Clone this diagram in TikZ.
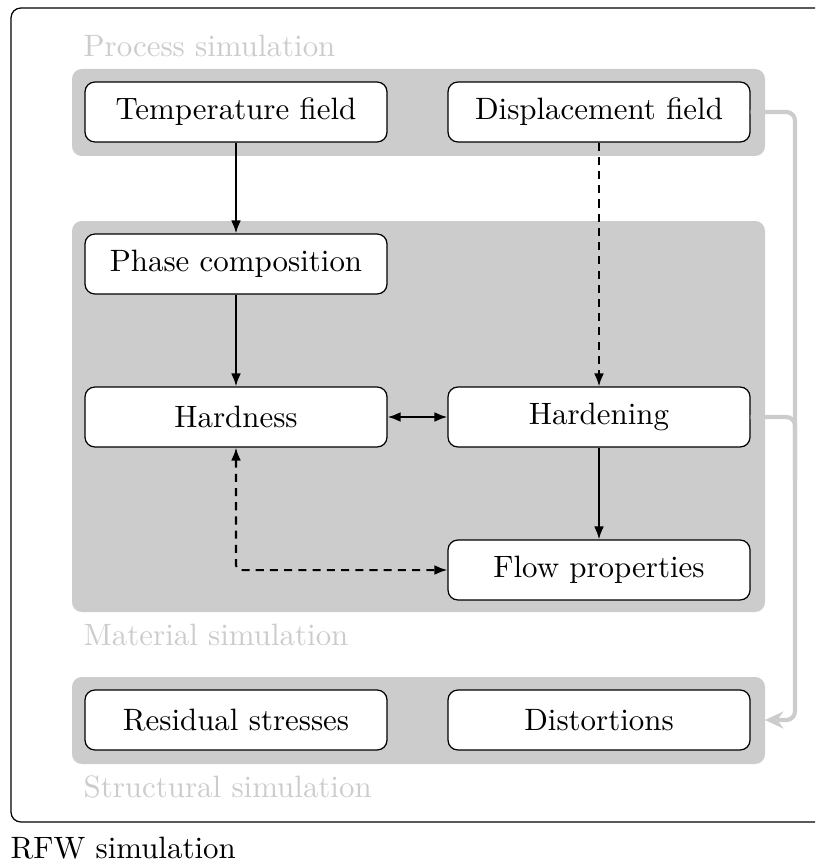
\documentclass[tikz,border=0pt]{standalone}
\usetikzlibrary{arrows.meta}
\begin{document}
\begin{tikzpicture}[x=0.3235pt,y=-0.3235pt,
  box/.style={draw=black,line width=0.4pt,fill=white,rounded corners=3.2pt,
    minimum width=97.7pt,minimum height=19.4pt,inner sep=0pt,font=\normalsize},
  band/.style={fill=black!20,rounded corners=3.2pt},
  glabel/.style={text=black!20,anchor=base west,inner sep=0pt},
  arr/.style={line width=0.65pt,-{Latex[length=4.2pt,width=3.2pt]}},
  darr/.style={arr,dash pattern=on 2.6pt off 2pt},
  gline/.style={draw=black!20,line width=1.35pt,rounded corners=2.8pt},
]
\useasboundingbox (0,0) rectangle (815,864);
\clip (0,0) rectangle (815,864);
% outer frame
\draw[line width=0.4pt,rounded corners=3.2pt] (11,8) rectangle (840,822);
\node[anchor=base west,inner sep=0pt] (rfw) at (10,858) {RFW simulation};
% bands
\path[band] (72,69) rectangle (765,156);
\path[band] (72,221) rectangle (765,612);
\path[band] (72,677) rectangle (765,764);
\node[glabel] (lp) at (83,57) {Process simulation};
\node[glabel] (lm) at (83,645) {Material simulation};
\node[glabel] (ls) at (83,797) {Structural simulation};
% nodes
\node[box] (temp) at (236,112) {Temperature field};
\node[box] (disp) at (599,112) {Displacement field};
\node[box] (phase) at (236,264) {Phase composition};
\node[box] (hness) at (236,417) {Hardness};
\node[box] (hing) at (599,417) {Hardening};
\node[box] (flow) at (599,570) {Flow properties};
\node[box] (res) at (236,720) {Residual stresses};
\node[box] (dist) at (599,720) {Distortions};
% connectors
\draw[arr] (temp) -- (phase);
\draw[arr] (phase) -- (hness);
\draw[darr] (disp) -- (hing);
\draw[arr,{Latex[length=4.2pt,width=3.2pt]}-{Latex[length=4.2pt,width=3.2pt]}] (hness) -- (hing);
\draw[arr] (hing) -- (flow);
\draw[darr,{Latex[length=4.2pt,width=3.2pt]}-{Latex[length=4.2pt,width=3.2pt]},rounded corners=1.5pt] (hness.south) |- (flow.west);
% gray bracket
\coordinate (rt) at (795,0);
\draw[gline,-{Stealth[length=6pt,width=5.5pt]},shorten >=4.6pt] (disp.east) -- (disp.east -| rt) -- (dist.east -| rt) -- (dist.east);
\draw[gline] (hing.east) -- (hing.east -| rt) -- ([yshift=-20pt]hing.east -| rt);
\end{tikzpicture}
\end{document}
